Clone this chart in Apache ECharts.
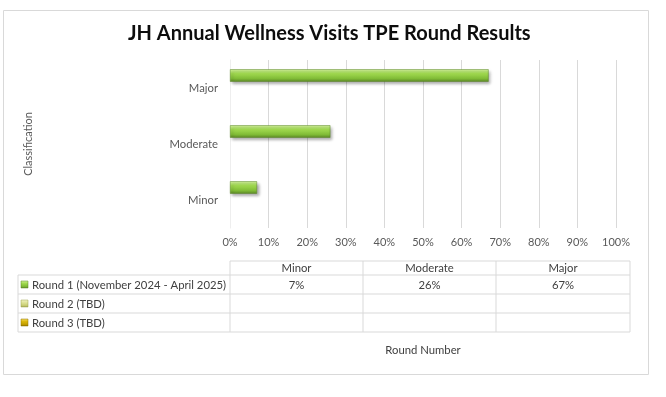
<!DOCTYPE html>
<html>
<head>
<meta charset="utf-8">
<script src="https://cdn.jsdelivr.net/npm/echarts@6/dist/echarts.min.js"></script>
<style>
  html, body { margin: 0; padding: 0; background: #fff; }
  #chart { width: 666px; height: 397px; }
</style>
</head>
<body>
<div id="chart"></div>
<script>
// data
const categories = ['Minor', 'Moderate', 'Major'];
const seriesNames = ['Round 1 (November 2024 - April 2025)', 'Round 2 (TBD)', 'Round 3 (TBD)'];
const round1 = [7, 26, 67];
const round2 = [null, null, null];
const round3 = [null, null, null];
const roundColors = [
  ['#d2f29c', '#a0d94f', '#80bb36', '#5a8626'],
  ['#f1f3c6', '#dfe39a', '#c9cd74', '#9fa24c'],
  ['#f6de6a', '#dcb80c', '#c29e00', '#8c7000']
];

const FONT = 'Lato';
const GRID = '#d9d9d9';

function barGradient(c) {
  return new echarts.graphic.LinearGradient(0, 0, 0, 1, [
    {offset: 0, color: c[0]},
    {offset: 0.35, color: c[1]},
    {offset: 0.75, color: c[2]},
    {offset: 1, color: c[3]}
  ]);
}

function makeSeries(name, data, i) {
  return {
    name: name,
    type: 'bar',
    data: data,
    barWidth: 12.5,
    barGap: '0%',
    itemStyle: {
      color: barGradient(roundColors[i]),
      borderColor: roundColors[i][3],
      borderWidth: 0.5,
      shadowColor: 'rgba(0,0,0,0.35)',
      shadowBlur: 3,
      shadowOffsetX: 2,
      shadowOffsetY: 2
    }
  };
}

// data table under the chart
function buildTable() {
  const colX = [230, 363, 496, 630];
  const rowY = [261, 275, 294, 313, 332];
  const left = 18;
  const els = [];
  const line = (x1, y1, x2, y2) => els.push({
    type: 'line', silent: true,
    shape: {x1: x1, y1: y1, x2: x2, y2: y2},
    style: {stroke: GRID, lineWidth: 1}
  });
  const text = (x, y, t, align) => els.push({
    type: 'text', silent: true, x: x, y: y,
    style: {text: t, fill: '#404040', font: '11.3px ' + FONT, align: align, verticalAlign: 'middle'}
  });
  // horizontal lines
  line(colX[0], rowY[0], colX[3], rowY[0]);
  for (let r = 1; r < rowY.length; r++) line(left, rowY[r], colX[3], rowY[r]);
  // vertical lines
  line(left, rowY[1], left, rowY[4]);
  colX.forEach(x => line(x, rowY[0], x, rowY[4]));
  // header
  categories.forEach((c, i) => text((colX[i] + colX[i + 1]) / 2, (rowY[0] + rowY[1]) / 2 + 0.5, c, 'center'));
  // rows
  const rows = [round1, round2, round3];
  rows.forEach((vals, r) => {
    const cy = (rowY[r + 1] + rowY[r + 2]) / 2;
    els.push({
      type: 'rect', silent: true,
      shape: {x: left + 3, y: cy - 3.5, width: 7, height: 7},
      style: {fill: barGradient(roundColors[r]), stroke: roundColors[r][3], lineWidth: 0.5}
    });
    text(left + 14, cy + 0.5, seriesNames[r], 'left');
    vals.forEach((v, i) => {
      if (v != null) text((colX[i] + colX[i + 1]) / 2, cy + 0.5, v + '%', 'center');
    });
  });
  // outer chart border
  els.push({
    type: 'rect', silent: true, z: -1,
    shape: {x: 3.5, y: 10.5, width: 645, height: 364},
    style: {fill: 'none', stroke: GRID, lineWidth: 1}
  });
  return els;
}

const chart = echarts.init(document.getElementById('chart'), null, {renderer: 'canvas'});
const option = {
  animation: false,
  textStyle: {fontFamily: FONT},
  title: {
    text: 'JH Annual Wellness Visits TPE Round Results',
    left: 123,
    top: 19,
    textStyle: {fontFamily: FONT, fontWeight: 'bold', fontSize: 20, color: '#0d0d0d'}
  },
  grid: {left: 230, right: 50, top: 60, bottom: 169, containLabel: false},
  xAxis: {
    type: 'value',
    min: 0,
    max: 100,
    interval: 10,
    name: 'Round Number',
    nameLocation: 'middle',
    nameGap: 117,
    nameTextStyle: {color: '#404040', fontSize: 11.3, fontFamily: FONT},
    axisLine: {show: false},
    axisTick: {show: false},
    axisLabel: {formatter: '{value}%', color: '#595959', fontSize: 11, fontFamily: FONT, margin: 9},
    splitLine: {lineStyle: {color: GRID, width: 1}}
  },
  yAxis: {
    type: 'category',
    data: categories,
    name: 'Classification',
    nameLocation: 'middle',
    nameRotate: 90,
    nameGap: 196,
    nameTextStyle: {color: '#595959', fontSize: 11, fontFamily: FONT},
    axisLine: {show: true, lineStyle: {color: '#eeeeee'}},
    axisTick: {show: false},
    axisLabel: {color: '#595959', fontSize: 11.3, fontFamily: FONT, margin: 12}
  },
  series: [
    makeSeries(seriesNames[0], round1, 0),
    makeSeries(seriesNames[1], round2, 1),
    makeSeries(seriesNames[2], round3, 2)
  ],
  graphic: buildTable()
};
chart.setOption(option);
</script>
</body>
</html>
